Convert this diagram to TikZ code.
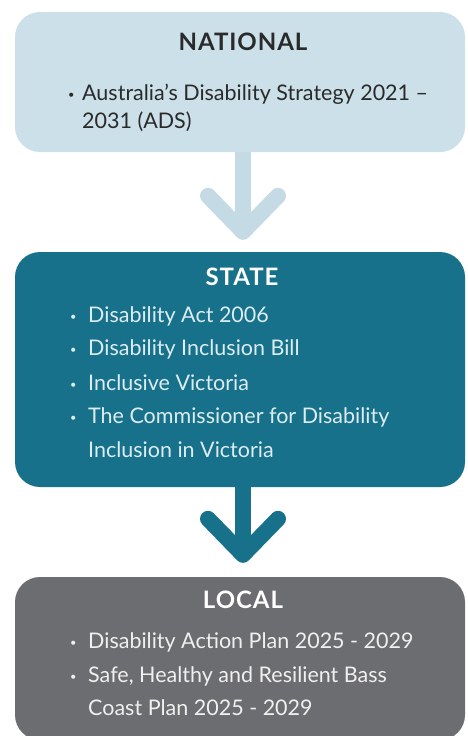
\documentclass[tikz,border=0pt]{standalone}
\usepackage{fontspec}
\setmainfont{Lato}
\usetikzlibrary{arrows.meta}
\definecolor{natfill}{HTML}{CBE0E9}
\definecolor{natarrow}{HTML}{C4DAE4}
\definecolor{statefill}{HTML}{18718A}
\definecolor{localfill}{HTML}{6C6D70}
\definecolor{nattext}{HTML}{2A2A2A}
\definecolor{statetext}{HTML}{DCEDF2}
\definecolor{localtext}{HTML}{F0F0F0}
\newcommand{\bul}[1][18pt]{\makebox[#1][l]{\raisebox{1.5pt}{\fontsize{11}{11}\selectfont\textbullet}}}
\begin{document}
\begin{tikzpicture}[x=1pt, y=-1pt,
  tier/.style={fill=#1, rectangle, rounded corners=25pt, minimum width=450pt},
  heading/.style={anchor=base, inner sep=0pt, font=\bfseries\fontsize{24}{24}\selectfont\addfontfeatures{LetterSpace=4}},
  entry/.style={anchor=base west, inner sep=0pt, font=\fontsize{21.5}{21.5}\selectfont},
  flow/.style={draw=#1, line width=16pt, -{Straight Barb[length=36pt, width=70pt, line cap=round, line join=round]}}]
\useasboundingbox (0,0) rectangle (467,736);
\node[tier=natfill, minimum height=140pt] (national) at (240,82) {};
\node[tier=statefill, minimum height=235pt] (state) at (240,369.5) {};
\node[tier=localfill, minimum height=163pt] (local) at (240,658.5) {};
\draw[flow=natarrow, shorten >=12pt] ([xshift=3pt]national.south) -- ([xshift=3pt]state.north);
\draw[flow=statefill, shorten >=14pt] ([xshift=3pt]state.south) -- ([xshift=3pt]local.north);
\node[heading, text=nattext] (natTitle) at (243,50) {NATIONAL};
\node[entry, text=nattext] (nat1) at (68,100) {\bul[14pt]Australia’s Disability Strategy 2021 –};
\node[entry, text=nattext] (nat2) at (82,128) {2031 (ADS)};
\node[heading, text=white] (stateTitle) at (242,285) {STATE};
\node[entry, text=statetext] (state1) at (70,322) {\bul Disability Act 2006};
\node[entry, text=statetext] (state2) at (70,355) {\bul Disability Inclusion Bill};
\node[entry, text=statetext] (state3) at (70,390) {\bul Inclusive Victoria};
\node[entry, text=statetext] (state4) at (70,423) {\bul The Commissioner for Disability};
\node[entry, text=statetext] (state5) at (88,457) {Inclusion in Victoria};
\node[heading, text=white] (localTitle) at (243,608) {LOCAL};
\node[entry, text=localtext] (local1) at (70,648) {\bul Disability Action Plan 2025 - 2029};
\node[entry, text=localtext] (local2) at (70,682) {\bul Safe, Healthy and Resilient Bass};
\node[entry, text=localtext] (local3) at (88,715) {Coast Plan 2025 - 2029};
\end{tikzpicture}
\end{document}
